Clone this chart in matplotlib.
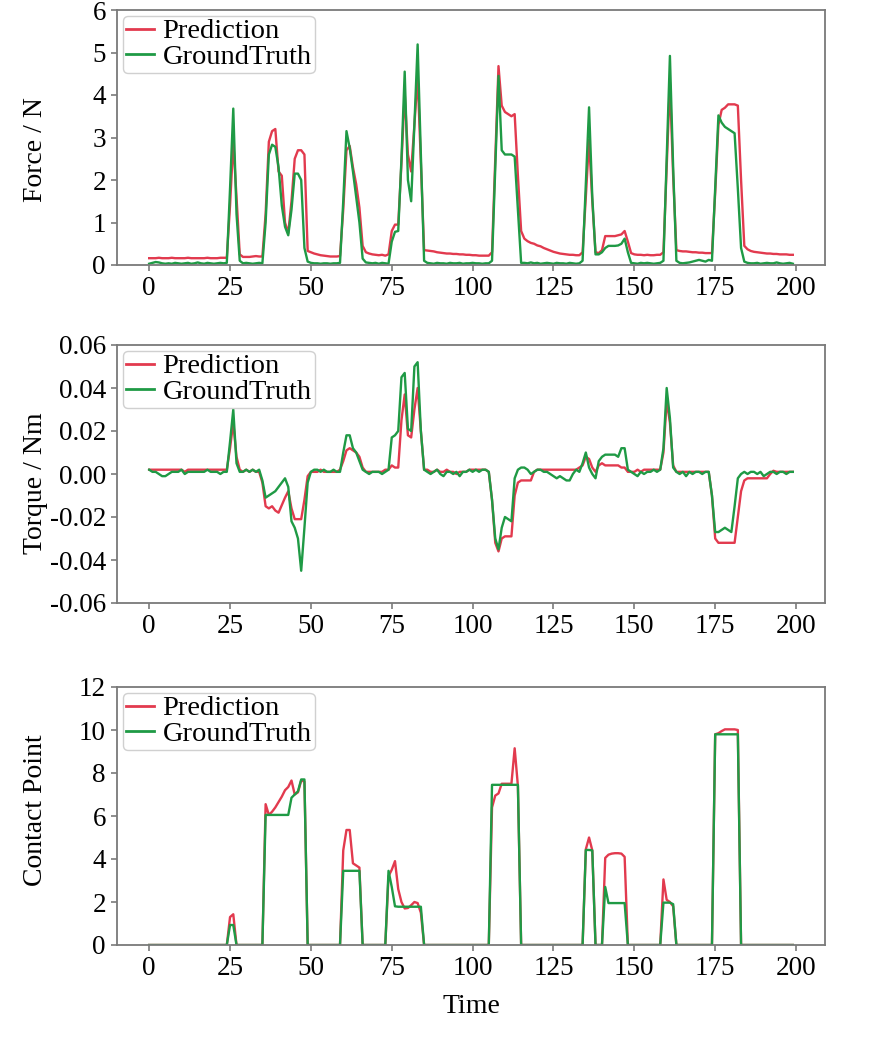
import matplotlib
matplotlib.use("Agg")
import matplotlib.pyplot as plt
import numpy as np

plt.rcParams['font.family'] = ['Liberation Serif', 'DejaVu Serif']
plt.rcParams['axes.unicode_minus'] = False

time = list(range(200))

force_pred = [
    0.16,0.16,0.16,0.17,0.16,0.16,0.16,0.17,0.16,0.16,
    0.16,0.16,0.17,0.16,0.16,0.16,0.16,0.16,0.17,0.16,
    0.16,0.16,0.17,0.17,0.17,1.4,2.9,1.6,0.25,0.19,
    0.19,0.19,0.2,0.21,0.2,0.2,1.2,2.9,3.15,3.2,
    2.2,2.1,1.0,0.75,1.5,2.5,2.7,2.7,2.6,0.33,
    0.3,0.27,0.25,0.23,0.22,0.21,0.2,0.2,0.2,0.21,
    1.3,2.7,2.8,2.3,1.9,1.35,0.45,0.3,0.27,0.25,
    0.24,0.23,0.24,0.22,0.25,0.8,0.95,0.95,2.4,4.05,
    2.6,2.2,3.3,4.45,2.4,0.35,0.34,0.33,0.32,0.3,
    0.29,0.28,0.27,0.27,0.26,0.26,0.25,0.25,0.24,0.24,
    0.23,0.23,0.22,0.22,0.22,0.22,0.3,2.5,4.68,3.75,
    3.6,3.55,3.5,3.55,2.1,0.8,0.62,0.56,0.52,0.5,
    0.46,0.44,0.4,0.37,0.34,0.31,0.29,0.27,0.26,0.25,
    0.24,0.24,0.23,0.23,0.3,1.6,2.95,1.5,0.3,0.28,
    0.35,0.68,0.68,0.68,0.68,0.7,0.72,0.8,0.55,0.28,
    0.25,0.24,0.24,0.23,0.24,0.23,0.23,0.24,0.24,0.3,
    2.3,4.3,2.1,0.35,0.33,0.32,0.32,0.31,0.3,0.3,
    0.29,0.29,0.28,0.28,0.28,1.7,3.3,3.65,3.7,3.78,
    3.78,3.78,3.75,2.0,0.45,0.37,0.33,0.31,0.3,0.29,
    0.28,0.27,0.27,0.26,0.26,0.25,0.25,0.25,0.24,0.24,
]

force_gt = [
    0.03,0.05,0.07,0.06,0.04,0.03,0.04,0.03,0.05,0.04,
    0.03,0.04,0.05,0.03,0.04,0.06,0.04,0.03,0.05,0.04,
    0.03,0.04,0.05,0.04,0.05,1.8,3.68,1.2,0.1,0.04,
    0.05,0.04,0.03,0.04,0.05,0.04,1.0,2.6,2.83,2.78,
    2.3,1.4,0.9,0.7,1.3,2.15,2.15,2.0,0.4,0.08,
    0.05,0.04,0.04,0.03,0.04,0.04,0.03,0.04,0.04,0.05,
    1.5,3.15,2.75,2.2,1.6,1.0,0.15,0.06,0.05,0.04,
    0.05,0.03,0.05,0.04,0.03,0.55,0.78,0.8,2.5,4.55,
    2.0,1.5,3.3,5.19,2.6,0.1,0.05,0.04,0.03,0.05,
    0.04,0.04,0.03,0.05,0.04,0.04,0.05,0.03,0.04,0.04,
    0.05,0.04,0.04,0.03,0.04,0.04,0.1,2.3,4.45,2.7,
    2.6,2.6,2.6,2.55,1.3,0.05,0.05,0.04,0.06,0.04,
    0.05,0.03,0.04,0.05,0.04,0.03,0.05,0.04,0.04,0.03,
    0.05,0.04,0.03,0.04,0.1,1.9,3.71,1.6,0.25,0.25,
    0.3,0.4,0.45,0.45,0.45,0.46,0.5,0.62,0.3,0.05,
    0.04,0.03,0.05,0.04,0.05,0.04,0.03,0.04,0.05,0.1,
    2.5,4.92,2.3,0.1,0.05,0.04,0.05,0.06,0.08,0.1,
    0.12,0.1,0.08,0.12,0.1,1.8,3.52,3.35,3.25,3.2,
    3.15,3.1,1.8,0.4,0.08,0.05,0.04,0.04,0.05,0.03,
    0.04,0.05,0.04,0.04,0.06,0.04,0.03,0.04,0.05,0.03,
]

torque_pred = [
    0.002,0.002,0.002,0.002,0.002,0.002,0.002,0.002,0.002,0.002,
    0.002,0.001,0.002,0.002,0.002,0.002,0.002,0.002,0.002,0.002,
    0.002,0.002,0.002,0.002,0.002,0.012,0.024,0.008,0.002,0.001,
    0.002,0.001,0.002,0.001,0.001,-0.004,-0.015,-0.016,-0.015,-0.017,
    -0.018,-0.0145,-0.011,-0.008,-0.016,-0.021,-0.021,-0.021,-0.012,-0.001,
    0.001,0.001,0.001,0.002,0.001,0.001,0.001,0.001,0.001,0.002,
    0.006,0.011,0.012,0.011,0.010,0.008,0.003,0.001,0.001,0.001,
    0.001,0.001,0.001,0.002,0.002,0.004,0.003,0.003,0.025,0.037,
    0.018,0.017,0.030,0.040,0.020,0.002,0.002,0.001,0.001,0.002,
    0.001,0.001,0.002,0.001,0.001,0.000,0.001,0.001,0.001,0.002,
    0.002,0.002,0.002,0.002,0.002,0.001,-0.012,-0.032,-0.036,-0.030,
    -0.029,-0.029,-0.029,-0.010,-0.004,-0.003,-0.003,-0.003,-0.003,0.001,
    0.002,0.002,0.002,0.002,0.002,0.002,0.002,0.002,0.002,0.002,
    0.002,0.002,0.002,0.003,0.004,0.008,0.007,0.003,0.001,0.004,
    0.005,0.004,0.004,0.004,0.004,0.004,0.003,0.003,0.001,0.001,
    0.001,0.002,0.001,0.002,0.002,0.002,0.002,0.002,0.002,0.010,
    0.034,0.024,0.004,0.001,0.001,0.001,0.001,0.001,0.001,0.001,
    0.001,0.001,0.001,0.001,-0.010,-0.030,-0.032,-0.032,-0.032,-0.032,
    -0.032,-0.032,-0.020,-0.008,-0.003,-0.002,-0.002,-0.002,-0.002,-0.002,
    -0.002,-0.002,0.000,0.0015,0.001,0.001,0.001,0.001,0.001,0.001,
]

torque_gt = [
    0.002,0.001,0.001,0.000,-0.001,-0.001,0.000,0.001,0.001,0.001,
    0.002,0.000,0.001,0.001,0.001,0.001,0.001,0.001,0.002,0.001,
    0.001,0.001,0.000,0.001,0.001,0.015,0.030,0.005,0.001,0.001,
    0.002,0.001,0.002,0.001,0.002,-0.003,-0.011,-0.010,-0.009,-0.008,
    -0.006,-0.004,-0.002,-0.006,-0.022,-0.025,-0.030,-0.045,-0.025,-0.004,
    0.001,0.002,0.002,0.001,0.002,0.001,0.001,0.002,0.001,0.001,
    0.010,0.018,0.018,0.012,0.010,0.006,0.002,0.001,0.000,0.001,
    0.001,0.001,0.000,0.001,0.002,0.017,0.018,0.020,0.045,0.047,
    0.021,0.020,0.050,0.052,0.020,0.002,0.001,0.000,0.001,0.002,
    0.000,-0.001,0.001,0.001,0.000,0.001,-0.001,0.001,0.001,0.002,
    0.001,0.002,0.001,0.002,0.002,0.001,-0.012,-0.030,-0.035,-0.025,
    -0.020,-0.021,-0.022,-0.002,0.002,0.003,0.003,0.002,0.000,0.001,
    0.002,0.002,0.001,0.001,0.000,-0.001,-0.002,-0.001,-0.002,-0.003,
    -0.003,0.000,0.002,0.001,0.005,0.010,0.003,0.000,-0.002,0.006,
    0.008,0.009,0.009,0.009,0.009,0.008,0.012,0.012,0.002,0.001,
    0.000,-0.001,0.001,0.000,0.001,0.001,0.002,0.001,0.002,0.012,
    0.040,0.026,0.003,0.001,0.000,0.001,-0.001,0.001,0.000,0.001,
    0.001,0.000,0.001,0.001,-0.010,-0.027,-0.027,-0.026,-0.025,-0.026,
    -0.027,-0.015,-0.002,0.000,0.001,0.000,0.001,0.001,0.000,0.001,
    -0.001,0.000,0.001,0.001,0.000,0.001,0.001,0.000,0.001,0.001,
]

contact_pred = [
    0,0,0,0,0,0,0,0,0,0,
    0,0,0,0,0,0,0,0,0,0,
    0,0,0,0,0,1.3,1.43,0,0,0,
    0,0,0,0,0,0,6.55,6.05,6.2,6.4,
    6.65,6.9,7.2,7.35,7.65,7.0,7.1,7.65,7.6,0,
    0,0,0,0,0,0,0,0,0,0,
    4.4,5.35,5.35,3.8,3.7,3.6,0,0,0,0,
    0,0,0,0,3.2,3.5,3.9,2.6,2.0,1.7,
    1.72,1.85,2.0,1.95,1.5,0,0,0,0,0,
    0,0,0,0,0,0,0,0,0,0,
    0,0,0,0,0,0,6.4,6.95,7.05,7.5,
    7.5,7.5,7.5,9.15,7.4,0,0,0,0,0,
    0,0,0,0,0,0,0,0,0,0,
    0,0,0,0,0,4.45,5.0,4.4,0,0,
    0,4.05,4.2,4.25,4.27,4.27,4.25,4.1,0,0,
    0,0,0,0,0,0,0,0,0,3.05,
    2.1,2.0,1.8,0,0,0,0,0,0,0,
    0,0,0,0,0,9.8,9.85,9.95,10.03,10.03,
    10.03,10.03,10.0,0,0,0,0,0,0,0,
    0,0,0,0,0,0,0,0,0,0,
]

contact_gt = [
    0,0,0,0,0,0,0,0,0,0,
    0,0,0,0,0,0,0,0,0,0,
    0,0,0,0,0,0.93,0.93,0,0,0,
    0,0,0,0,0,0,6.05,6.05,6.05,6.05,
    6.05,6.05,6.05,6.05,6.85,7.0,7.15,7.7,7.7,0,
    0,0,0,0,0,0,0,0,0,0,
    3.45,3.45,3.45,3.45,3.45,3.45,0,0,0,0,
    0,0,0,0,3.45,2.7,1.8,1.78,1.78,1.78,
    1.78,1.78,1.78,1.78,1.78,0,0,0,0,0,
    0,0,0,0,0,0,0,0,0,0,
    0,0,0,0,0,0,7.45,7.45,7.45,7.45,
    7.45,7.45,7.45,7.45,7.45,0,0,0,0,0,
    0,0,0,0,0,0,0,0,0,0,
    0,0,0,0,0,4.42,4.42,4.4,0,0,
    0,2.7,1.95,1.95,1.95,1.95,1.95,1.95,0,0,
    0,0,0,0,0,0,0,0,0,1.97,
    1.97,1.97,1.9,0,0,0,0,0,0,0,
    0,0,0,0,0,9.8,9.8,9.8,9.8,9.8,
    9.8,9.8,9.8,0,0,0,0,0,0,0,
    0,0,0,0,0,0,0,0,0,0,
]

series_labels = ["Prediction", "GroundTruth"]
ylabels = ["Force / N", "Torque / Nm", "Contact Point"]
x_ticks = [0, 25, 50, 75, 100, 125, 150, 175, 200]
force_ticks = [0, 1, 2, 3, 4, 5, 6]
torque_ticks = [-0.06, -0.04, -0.02, 0.00, 0.02, 0.04, 0.06]
contact_ticks = [0, 2, 4, 6, 8, 10, 12]

RED = "#e23a4e"
GREEN = "#1f9a45"
SPINE = "#7a7a7a"

fig = plt.figure(figsize=(8.76, 10.40), dpi=100)
left, width = 117/876, 708/876
tops = [10, 345, 687]
heights = [255, 258, 258]
panels = [
    (force_pred, force_gt, force_ticks, (0, 6), "{:.0f}", 0.453),
    (torque_pred, torque_gt, torque_ticks, (-0.06, 0.06), "{:.2f}", 0.465),
    (contact_pred, contact_gt, contact_ticks, (0, 12), "{:.0f}", 0.523),
]

for i, (pred, gt, yt, ylim, fmt, ly) in enumerate(panels):
    h = heights[i]
    bottom = 1 - (tops[i] + h) / 1040
    ax = fig.add_axes([left, bottom, width, h / 1040])
    ax.plot(time, pred, color=RED, lw=1.7, label=series_labels[0])
    ax.plot(time, gt, color=GREEN, lw=1.7, label=series_labels[1])
    ax.set_xlim(-9.95, 208.95)
    ax.set_ylim(*ylim)
    ax.set_xticks(x_ticks)
    ax.set_xticklabels([str(v) for v in x_ticks])
    ax.set_yticks(yt)
    ax.set_yticklabels([fmt.format(v) for v in yt])
    ax.tick_params(axis='both', labelsize=19.5, length=4, width=1.2,
                   color=SPINE, pad=4, direction='out')
    for s in ax.spines.values():
        s.set_color(SPINE)
        s.set_linewidth(1.3)
    ax.set_ylabel(ylabels[i], fontsize=20)
    ax.yaxis.set_label_coords(-0.097, ly)
    leg = ax.legend(loc='upper left', fontsize=20.5, handlelength=1.0,
                    handletextpad=0.3, labelspacing=0.0, borderpad=0.1,
                    borderaxespad=0.2, frameon=True, fancybox=True,
                    framealpha=1.0)
    leg.get_frame().set_edgecolor("#d0d0d0")
    leg.get_frame().set_linewidth(1.0)
    for line in leg.get_lines():
        line.set_linewidth(2.0)
    if i == 2:
        ax.set_xlabel("Time", fontsize=20, labelpad=9)

fig.savefig("out.png", dpi=100, facecolor="white")
